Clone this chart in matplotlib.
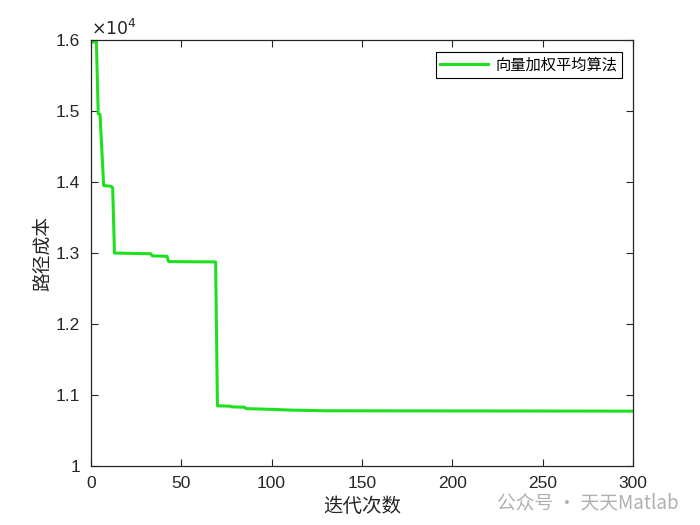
import numpy as np
import matplotlib.pyplot as plt
from matplotlib.ticker import FuncFormatter

plt.rcParams['font.family'] = ['Liberation Sans', 'Noto Sans CJK SC', 'DejaVu Sans']

# 迭代次数 / 路径成本 (读图得到的转折点)
iters = [1, 3, 4, 5, 7, 11, 12, 13, 33, 34, 42, 43, 69, 70, 77, 78, 85, 86, 100, 110, 130, 300]
cost = [15970, 15970, 14960, 14950, 13950, 13940, 13920, 13000, 12990, 12960, 12955, 12880,
        12875, 10850, 10845, 10835, 10830, 10810, 10800, 10790, 10780, 10775]
label = '向量加权平均算法'
xticks = [0, 50, 100, 150, 200, 250, 300]
yticks = [10000, 11000, 12000, 13000, 14000, 15000, 16000]

dark = '#262626'
fig = plt.figure(figsize=(7, 5.25), dpi=100)
ax = fig.add_axes([0.13, 0.112, 0.774, 0.812])
ax.plot(iters, cost, color='#1ee01e', linewidth=2.2, label=label)

ax.set_xlim(0, 300)
ax.set_ylim(10000, 16000)
ax.set_xticks(xticks)
ax.set_yticks(yticks)
ax.yaxis.set_major_formatter(FuncFormatter(lambda v, p: f'{v / 1e4:g}'))
ax.tick_params(direction='in', top=True, right=True, labelsize=12.5,
               colors=dark, length=5, width=0.8)
ax.tick_params(axis='x', pad=7)
ax.tick_params(axis='y', pad=8)
for s in ax.spines.values():
    s.set_color(dark)
    s.set_linewidth(0.9)

ax.text(0.0, 1.005, r'$\times10^4$', transform=ax.transAxes, fontsize=12.5,
        color=dark, ha='left', va='bottom')
ax.set_xlabel('迭代次数', family=['Noto Sans CJK SC'], fontsize=14, color=dark, labelpad=4)
ax.set_ylabel('路径成本', family=['Noto Sans CJK SC'], fontsize=13.5, color=dark, labelpad=2)

leg = ax.legend(loc='upper right', prop={'family': ['Noto Sans CJK SC'], 'size': 11},
                fancybox=False, framealpha=1, edgecolor='black', borderpad=0.3,
                borderaxespad=0, handlelength=3.1, handletextpad=0.5,
                bbox_to_anchor=(0.98, 0.972))
leg.get_frame().set_linewidth(0.8)

fig.text(0.97, 0.042, '公众号 · 天天Matlab', family=['Noto Sans CJK SC'], fontsize=13.5,
         color='#b0b0b0', ha='right', va='center')

fig.savefig('out.png', dpi=100)
